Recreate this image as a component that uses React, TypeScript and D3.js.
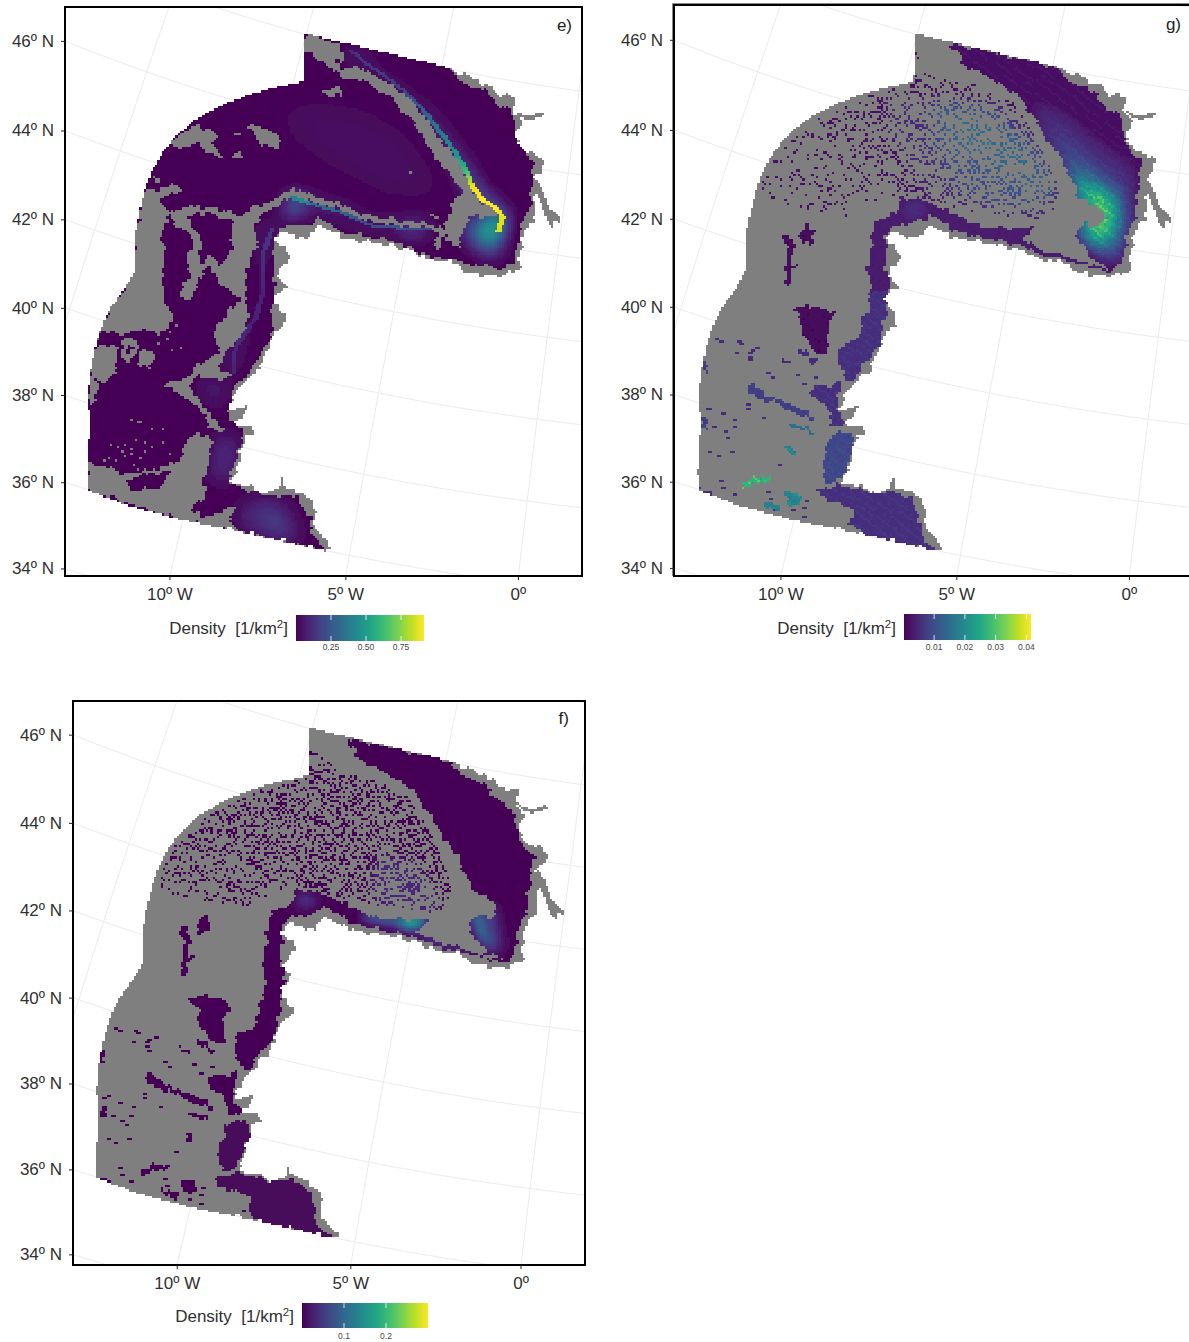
import React, { useMemo } from 'react';
import * as d3 from 'd3';

// outlines in "trace units" (about 3 units per pixel)
const studyOutline = [[720,100],[1150,203],[1180,225],[1200,218],[1225,243],[1270,255],[1285,280],[1345,295],[1335,330],[1350,348],[1360,375],[1340,400],[1370,455],[1420,468],[1425,510],[1400,530],[1403,578],[1398,660],[1370,690],[1350,780],[1365,808],[1320,825],[1250,825],[1200,815],[1170,790],[1060,770],[1040,750],[960,735],[830,710],[760,675],[735,715],[650,695],[635,725],[680,770],[640,830],[665,860],[632,890],[640,910],[670,980],[635,995],[620,1025],[590,1100],[525,1165],[495,1235],[510,1265],[545,1305],[530,1385],[500,1450],[560,1460],[610,1480],[650,1465],[710,1470],[755,1535],[750,1580],[800,1645],[780,1652],[520,1592],[360,1560],[200,1516],[80,1470],[78,1410],[85,1310],[88,1250],[80,1210],[85,1150],[90,1110],[105,1035],[118,995],[135,950],[150,920],[170,895],[200,850],[220,810],[222,700],[233,640],[250,570],[268,520],[300,460],[340,410],[390,365],[440,335],[490,310],[555,285],[620,265],[715,245]];
const riverStubs = [
  [[1345,335],[1380,348],[1425,336],[1432,346],[1385,360],[1350,348]],
  [[1400,530],[1420,560],[1440,620],[1475,655],[1478,668],[1455,662],[1458,688],[1440,670],[1425,625],[1403,578],[1395,600]],
  [[495,1235],[555,1215],[535,1255],[510,1265],[520,1275],[560,1275],[575,1300],[545,1305],[530,1310],[505,1290]],
  [[648,1465],[650,1435],[658,1435],[660,1465]],
];
const seaOutline = [[720,100],[1150,203],[1175,240],[1260,275],[1275,305],[1335,335],[1345,390],[1370,450],[1395,490],[1395,530],[1385,620],[1365,660],[1340,790],[1310,805],[1200,790],[1060,760],[1040,740],[960,720],[830,695],[760,650],[745,675],[650,680],[630,720],[635,770],[630,890],[625,930],[630,1000],[600,1040],[580,1090],[520,1150],[495,1235],[510,1265],[540,1290],[525,1370],[495,1450],[600,1485],[700,1490],[735,1550],[745,1600],[780,1650],[520,1592],[360,1560],[200,1516],[80,1470],[78,1410],[85,1310],[88,1250],[80,1210],[85,1150],[90,1110],[105,1035],[118,995],[135,950],[150,920],[170,895],[200,850],[220,810],[222,700],[233,640],[250,570],[268,520],[300,460],[340,410],[390,365],[440,335],[490,310],[555,285],[620,265],[715,245]];

// panel e: areas without density inside the sea
const holesE = [
  [[718,105],[760,112],[800,125],[840,150],[835,175],[800,190],[830,205],[880,198],[930,228],[985,262],[1030,290],[1055,325],[1100,385],[1140,440],[1180,495],[1205,535],[1215,575],[1240,605],[1280,625],[1295,650],[1270,650],[1205,650],[1190,690],[1175,745],[1145,725],[1130,665],[1160,640],[1145,620],[1190,580],[1170,550],[1140,510],[1115,490],[1090,440],[1060,400],[1030,345],[980,300],[930,268],[890,235],[850,240],[800,205],[760,180],[718,145]],
  [[765,270],[830,265],[825,285],[790,290]],
  [[550,380],[590,375],[640,405],[655,430],[640,445],[590,425]],
  [[395,378],[440,385],[470,410],[450,425],[480,468],[430,460],[420,430],[350,445],[320,435],[350,405]],
  [[505,395],[535,400],[525,410]],
  [[505,465],[530,455],[540,470],[510,478]],
  [[1028,515],[1042,518],[1035,523]],
  [[1090,640],[1120,645],[1115,652],[1090,650]],
  [[280,525],[300,530],[295,540],[280,538]],
  [[250,570],[345,555],[355,575],[290,600],[320,635],[300,700],[310,780],[300,860],[310,900],[335,970],[310,995],[250,990],[180,1000],[118,995],[105,1035],[135,950],[170,895],[220,810],[222,700]],
  [[320,640],[380,618],[450,620],[535,650],[570,620],[650,595],[680,562],[760,592],[830,612],[900,645],[950,655],[1060,668],[1125,680],[1140,700],[1115,745],[1100,740],[1120,690],[1060,682],[950,672],[900,662],[830,628],[760,610],[690,585],[675,600],[640,620],[590,640],[570,680],[585,720],[560,780],[545,860],[555,930],[550,1000],[490,1050],[470,1100],[500,1135],[400,1130],[380,1160],[415,1200],[445,1250],[500,1290],[470,1290],[440,1280],[420,1240],[370,1190],[300,1155],[370,1135],[400,1100],[445,1075],[470,1050],[450,1000],[470,970],[500,930],[540,900],[500,880],[480,860],[440,790],[410,840],[385,900],[350,890],[360,850],[390,830],[370,770],[400,720],[370,690],[340,680]],
  [[78,1465],[82,1390],[100,1395],[130,1400],[170,1415],[230,1420],[300,1400],[350,1385],[370,1350],[365,1320],[395,1305],[440,1300],[445,1340],[440,1390],[415,1440],[440,1470],[400,1510],[385,1535],[440,1550],[480,1530],[520,1520],[500,1560],[525,1592],[440,1575],[360,1560],[200,1510],[80,1470]],
  [[105,1035],[165,1040],[170,1090],[160,1120],[130,1150],[90,1130],[90,1110]],
  [[235,1050],[285,1060],[265,1105],[235,1095]],
  [[180,1010],[230,1020],[225,1060],[200,1090],[180,1065]],
  [[90,1130],[115,1150],[105,1200],[85,1230]],
  [[205,1257],[240,1266],[238,1270],[204,1261]],
];
const lakesE = [
  [[375,650],[440,635],[505,665],[510,720],[500,770],[470,790],[440,760],[420,790],[405,760],[420,720],[395,690]],
  [[195,1440],[260,1420],[325,1410],[300,1460],[240,1470],[215,1475]],
  [[195,1035],[215,1040],[205,1060],[190,1055]],
];
const specksE = [[150,1330],[165,1340],[180,1350],[190,1365],[210,1360],[220,1315],[245,1325],[270,1335],[300,1325],[320,1360],[215,1390],[225,1405],[160,1375],[140,1370],[130,1380],[100,1415],[265,1280],[297,1282],[190,1330],[235,1370],[205,1345],[250,1350],[300,985],[320,990],[340,975],[290,1000],[315,1010],[350,1040],[330,1045],[285,1030]];
const bandsE = [
  { v: 0.012, poly: [[600,320],[760,280],[900,300],[1040,370],[1120,490],[1150,580],[1100,630],[950,620],[790,550],[650,450]] },
  { v: 0.024, poly: [[680,330],[770,320],[890,340],[1000,410],[1080,510],[1090,570],[990,570],[810,480],[700,400]] },
  { v: 0.036, poly: [[730,370],[860,380],[980,450],[1040,530],[960,530],[820,450]] },
  { v: 0.08, poly: [[850,145],[910,170],[905,200],[860,195]] },
  { v: 0.12, poly: [[462,1310],[522,1310],[505,1440],[445,1440]] },
  { v: 0.09, poly: [[400,1145],[490,1150],[480,1210],[430,1190]] },
  { v: 0.1, poly: [[500,1040],[530,1000],[515,1100],[490,1110]] },
  { v: 0.1, poly: [[530,1510],[620,1490],[680,1530],[705,1625],[660,1625],[530,1585]] },
  { v: 0.18, poly: [[580,1540],[640,1530],[680,1600],[650,1615]] },
  { v: 0.12, poly: [[590,780],[625,660],[705,640],[720,600],[650,660],[590,690]] },
  { v: 0.28, poly: [[1190,660],[1250,650],[1300,650],[1295,740],[1275,775],[1200,720]] },
  { v: 0.45, poly: [[1225,680],[1295,660],[1292,735],[1265,745]] },
  { v: 0.72, poly: [[1255,675],[1295,655],[1293,715],[1270,715]] },
  { v: 1.1, poly: [[1270,678],[1295,665],[1290,692],[1275,692]] },
  { v: 0.5, poly: [[680,595],[715,595],[700,640],[670,640]] },
  { v: 0.4, poly: [[1000,680],[1080,675],[1070,695],[1020,700]] },
];
const ridgesE = [
  [[850,150,0.12],[1000,262,0.16],[1060,320,0.25],[1100,372,0.33],[1150,440,0.42],[1190,505,0.6],[1210,555,0.88],[1240,595,0.91],[1280,620,0.91],[1300,650,0.88],[1285,690,0.85]],
  [[680,590,0.4],[710,600,0.45],[760,615,0.32],[830,635,0.28],[910,672,0.2],[1000,680,0.24],[1085,682,0.18]],
  [[620,680,0.14],[590,760,0.12],[590,880,0.09],[570,950,0.09],[510,1040,0.1],[505,1120,0.09]],
];

// panels g and f: sea areas that hold data
const coreAreas = [
  { g: 0.002, f: 0.002, poly: [[840,128],[1165,203],[1190,240],[1280,280],[1285,305],[1345,340],[1360,400],[1385,460],[1415,490],[1405,560],[1395,650],[1375,690],[1355,790],[1335,808],[1270,780],[1235,745],[1220,695],[1240,670],[1280,680],[1305,650],[1290,625],[1225,590],[1215,560],[1190,510],[1150,440],[1100,370],[1050,290],[1000,260],[920,210],[860,185],[880,170],[850,145]] },
  { g: 0.003, f: 0.002, poly: [[695,590],[760,600],[850,640],[930,680],[1010,680],[1095,685],[1060,720],[1100,745],[1190,770],[1250,790],[1335,808],[1320,812],[1200,785],[1100,760],[1050,735],[960,718],[850,690],[775,640],[765,660],[680,675],[650,700],[645,800],[660,840],[640,900],[600,890],[595,800],[605,720],[615,660],[680,640]] },
  { g: 0.006, f: 0.002, poly: [[595,870],[655,870],[645,950],[630,1030],[600,1070],[550,1140],[530,1145],[510,1100],[505,1060],[520,1030],[565,1015],[580,975],[570,950],[600,920]] },
  { g: 0.006, f: 0.002, poly: [[420,1160],[515,1150],[500,1240],[525,1270],[520,1285],[490,1275],[470,1220],[435,1190]] },
  { g: 0.009, f: 0.004, poly: [[475,1305],[545,1295],[550,1345],[530,1400],[510,1440],[465,1450],[455,1400],[470,1350]] },
  { g: 0.006, f: 0.003, poly: [[445,1470],[500,1455],[560,1465],[620,1480],[660,1475],[720,1490],[750,1560],[755,1620],[800,1650],[780,1650],[580,1605],[545,1570],[555,1530],[500,1510],[460,1495]] },
];
const patchAreas = [
  { g: 0.001, f: 0.002, poly: [[390,700],[410,675],[435,690],[430,725],[400,730]] },
  { g: 0.001, f: 0.002, poly: [[340,700],[365,705],[370,760],[350,765]] },
  { g: 0.001, f: 0.002, poly: [[352,760],[365,760],[362,800],[385,790],[385,800],[362,815],[360,850],[340,860],[350,820]] },
  { g: 0.001, f: 0.002, poly: [[365,925],[430,915],[490,935],[475,985],[470,1060],[440,1060],[400,1010],[395,960]] },
  { g: 0.005, f: 0.002, poly: [[335,1075],[370,1085],[368,1092],[333,1082]] },
  { g: 0.005, f: 0.002, poly: [[385,1045],[445,1080],[440,1090],[385,1060]] },
  { g: 0.008, f: 0.002, poly: [[240,1150],[265,1165],[320,1195],[300,1205],[250,1190],[235,1170]] },
  { g: 0.008, f: 0.002, poly: [[315,1198],[370,1215],[430,1245],[430,1260],[370,1240],[320,1215]] },
  { g: 0.014, f: 0.002, poly: [[360,1268],[435,1290],[430,1300],[365,1280]] },
  { g: 0.018, f: 0.002, poly: [[352,1335],[372,1335],[375,1365],[355,1360]] },
  { g: 0.027, f: 0.002, poly: [[215,1450],[250,1435],[300,1423],[305,1438],[250,1455],[225,1465]] },
  { g: 0.019, f: 0.002, poly: [[340,1475],[385,1478],[392,1510],[355,1520]] },
  { g: 0.018, f: 0.002, poly: [[285,1500],[330,1520],[330,1540],[280,1510]] },
  { g: 0.008, f: 0.002, poly: [[95,1250],[112,1255],[115,1290],[98,1285]] },
  { g: 0.008, f: 0.002, poly: [[100,1080],[112,1080],[108,1125],[98,1125]] },
  { g: 0.006, f: 0.002, poly: [[90,1468],[130,1478],[128,1486],[92,1474]] },
];
const dotsLower = [[135,1015],[150,1018],[198,1020],[205,1028],[232,1052],[236,1066],[238,1078],[258,1038],[195,1053],[105,1225],[115,1350],[140,1365],[160,1290],[170,1310],[185,1280],[130,1280],[180,1350],[152,1240],[225,1210],[228,1225],[190,1255],[115,1220],[260,1180],[275,1250],[300,1130],[290,1118],[375,1125],[400,1150],[430,1130],[320,1390],[150,1440],[155,1460],[290,1470],[295,1490],[405,1500],[400,1520],[360,1530],[310,1525],[400,1550],[530,1570],[545,1565],[185,1480],[240,1045]];
const speckleZone = [[430,365],[560,295],[730,250],[730,150],[770,190],[850,250],[880,240],[1030,300],[1100,420],[1170,570],[1150,650],[1100,660],[940,640],[800,610],[690,580],[620,600],[540,650],[320,610],[265,570],[330,450]];
const denseZone = [[560,295],[730,250],[850,250],[1030,300],[1100,420],[1170,570],[1150,650],[940,640],[800,610],[690,580],[620,520],[540,400]];
const speckleTile = [
  "..##..o...+++.....#..o....##...+....o.#.",
  "....#...o....##....+...#....#..o..++....",
  "+o...##....o...#.o...+..#....+....o..##.",
  ".##....#..+.....##.......##.o...#.....o#",
  "...#o...#....o....#..+o....#...##..+....",
  ".....#..o.##...+...#....o..o#....#...o+.",
  ".+....#.....#o...o..##.+.....#.o..##....",
  "o..##..#.+...##.......#...##..+.....#.o.",
  "....#o..#...o..#.+o....#....#....o...##.",
  ".#....#...o.....#...##..o...o##....+...#",
  "..#+...##....+...o....#..+.....#..o.##..",
  "o..#......#.o...##.....#....++..#.....#.",
  "....##.+...#.....o#..o..##.....o..#+....",
  ".o....#.....##.+...#.....o#.##.....#..o.",
  "..+....#o.....#...o.##......o.#.+...##..",
  "##..o...##..+..#.....#..+.....#...o...#.",
  "..#.....o.#......##...#....##..o.#...+..",
  ".o.##.+....#.o....#o...##....#....##....",
  "....o#....#.##.....#.....#o...#.+...#.o.",
  "+.....#.o....#..+o..##....#.o..##....#..",
  "..##...#...o..#......#.+...##....#o.....",
  "...o#...##....o.##....#.....o#....##.+..",
  ".+...#....#.+....#.o...##.....#.o...#...",
  "o...#.##...#...o..#.....#.+....##....o#.",
];
// edge roughness of the raster, in cells
const wobA = [0,1,2,1,0,-1,-2,-1,1,2,1,-1,-2,0,2,1,-1,0,1,-2,-1,1,0,2,-1,-2,0,1];
const wobB = [1,0,-1,-2,0,2,1,-1,0,1,2,0,-2,-1,1,-1,0,2,1,-1,-2,0,1,2,-1,0,-1,1,0,2,-2];
const bandsG = [
  { v: 0.005, poly: [[640,260],[1100,400],[1170,600],[1100,660],[800,610],[700,500],[640,360]] },
  { v: 0.01, poly: [[780,290],[1000,320],[1150,520],[1170,590],[1100,640],[930,620],[800,470]] },
  { v: 0.014, poly: [[800,310],[950,340],[1120,480],[1170,580],[1080,560],[960,500],[820,420]] },
  { v: 0.005, poly: [[1060,290],[1180,330],[1290,420],[1400,500],[1405,650],[1380,760],[1340,800],[1230,740],[1220,590]] },
  { v: 0.009, poly: [[1110,370],[1190,420],[1290,500],[1375,570],[1375,680],[1340,790],[1240,740],[1220,640],[1190,510]] },
  { v: 0.014, poly: [[1160,450],[1240,510],[1340,590],[1355,680],[1325,770],[1250,730],[1225,670],[1215,560]] },
  { v: 0.022, poly: [[1190,510],[1260,540],[1330,590],[1340,670],[1305,740],[1250,720],[1225,680],[1290,650],[1220,590]] },
  { v: 0.032, poly: [[1220,560],[1290,580],[1325,610],[1330,670],[1300,710],[1240,700],[1225,670],[1280,670],[1310,640],[1230,590]] },
  { v: 0.05, poly: [[1270,590],[1315,600],[1320,630],[1295,610]] },
  { v: 0.05, poly: [[1290,665],[1315,660],[1300,690],[1270,700]] },
  { v: 0.008, poly: [[700,590],[780,610],[770,650],[690,670]] },
];
const bandsF = [
  { v: 0.035, poly: [[950,480],[1060,520],[1130,620],[1120,660],[940,640],[920,560]] },
  { v: 0.05, poly: [[700,600],[760,620],[730,650],[700,640]] },
  { v: 0.1, poly: [[900,660],[1000,670],[1095,675],[1090,700],[1050,720],[1100,755],[1200,775],[1320,800],[1230,775],[1100,740],[1000,705],[900,685]] },
  { v: 0.2, poly: [[1020,668],[1090,678],[1050,708],[1015,700]] },
  { v: 0.05, poly: [[1225,650],[1300,650],[1320,770],[1280,780],[1240,730]] },
  { v: 0.11, poly: [[1225,655],[1255,665],[1285,770],[1255,750],[1232,710]] },
];

const latTicks = [46, 44, 42, 40, 38, 36, 34];
const lonTicks = [-10, -5, 0];
const viridisStops = d3.range(0, 1.01, 0.1);

const CELL = 2.25;
const GRAY = -1;
const project = d3.geoAzimuthalEqualArea().rotate([-10, -52]).scale(1).translate([0, 0]);
// reference panel's pixels, then trace units
const refX = d3.scaleLinear().domain([0, 1]).range([858, 858 + 2395]);
const refY = d3.scaleLinear().domain([0, 1]).range([-56, -56 + 2374]);
const toTrace = (lon: number, lat: number) => {
  const [x, y] = project([lon, lat]) as [number, number];
  return [(refX(x) - 60) * 2.95, refY(y) * 3];
};

const panels = [
  {
    label: 'e)', frame: [65, 7, 582, 576], labelAt: [572, 31], domain: [0, 0.914], smooth: 4,
    baseX: d3.scaleLinear().domain([0, 1475]).range([60, 560]),
    baseY: d3.scaleLinear().domain([0, 3]).range([0, 1]),
    ownX: d3.scaleLinear().domain([0, 1475]).range([60, 560]),
    ownY: d3.scaleLinear().domain([0, 3]).range([0, 1]),
    bar: [296, 424, 615, 641], ticks: [0.25, 0.5, 0.75], tickLabels: ['0.25', '0.50', '0.75'], tickY: 650,
    titleY: 634,
  },
  {
    label: 'g)', frame: [674, 5, 1192, 576], labelAt: [1181, 30], domain: [0.0002, 0.0415], smooth: 4,
    baseX: d3.scaleLinear().domain([0, 1475]).range([671, 1171]),
    baseY: d3.scaleLinear().domain([0, 3]).range([0, 1]),
    ownX: d3.scaleLinear().domain([0, 1500]).range([670, 1170]),
    ownY: d3.scaleLinear().domain([0, 3]).range([0, 1]),
    bar: [904, 1031, 614, 640], ticks: [0.01, 0.02, 0.03, 0.04], tickLabels: ['0.01', '0.02', '0.03', '0.04'], tickY: 650,
    titleY: 634, key: 'g',
  },
  {
    label: 'f)', frame: [73, 701, 585, 1265], labelAt: [569, 724], domain: [0, 0.3], smooth: 2,
    baseX: d3.scaleLinear().domain([0, 1475]).range([69.4, 562.4]),
    baseY: d3.scaleLinear().domain([0, 1700]).range([694.9, 1253.1]),
    ownX: d3.scaleLinear().domain([0, 1500]).range([68.4, 561.4]),
    ownY: d3.scaleLinear().domain([0, 1700]).range([694.9, 1253.1]),
    bar: [302, 428, 1303, 1328], ticks: [0.1, 0.2], tickLabels: ['0.1', '0.2'], tickY: 1339,
    titleY: 1322, key: 'f',
  },
];

const wob = (arr: number[], k: number) => arr[Math.floor(k / 2) % arr.length];

function rasterize(p: any) {
  const [x0, y0, x1, y1] = p.frame;
  const cols = Math.ceil((x1 - x0) / CELL);
  const rows = Math.ceil((y1 - y0) / CELL);
  const grid = new Float32Array(cols * rows).fill(NaN);
  const field = new Float32Array(cols * rows);

  const fill = (poly: number[][], sx: any, sy: any, paint: (i: number, c: number, r: number) => void) => {
    const pts = poly.map(([a, b]) => [sx(a), sy(b)]);
    for (let r = 0; r < rows; r++) {
      const y = y0 + (r + 0.5) * CELL;
      const xs: number[] = [];
      pts.forEach((q, k) => {
        const n = pts[(k + 1) % pts.length];
        if ((q[1] <= y) !== (n[1] <= y)) xs.push(q[0] + ((y - q[1]) / (n[1] - q[1])) * (n[0] - q[0]));
      });
      xs.sort((a, b) => a - b);
      for (let k = 0; k + 1 < xs.length; k += 2) {
        const c0 = Math.max(0, Math.round((xs[k] - x0) / CELL));
        const c1 = Math.min(cols, Math.round((xs[k + 1] - x0) / CELL));
        for (let c = c0; c < c1; c++) paint(r * cols + c, c, r);
      }
    }
  };
  // same polygon with rough, raster-like edges; amp scales the roughness
  const rough = (poly: number[][], sx: any, sy: any, paint: (i: number) => void, amp = 1, a = wobA, b = wobB, zone?: (c: number, r: number) => boolean) => {
    const m = new Uint8Array(cols * rows);
    fill(poly, sx, sy, (i) => { m[i] = 1; });
    for (let r = 0; r < rows; r++) {
      for (let c = 0; c < cols; c++) {
        const warped = !zone || zone(c, r);
        const sc = warped ? c + Math.trunc(wob(a, r) * amp) : c;
        const sr = warped ? r + Math.trunc(wob(b, c) * amp) : r;
        if (sc >= 0 && sc < cols && sr >= 0 && sr < rows && m[sr * cols + sc]) paint(r * cols + c);
      }
    }
  };
  const coastZone = (c: number, r: number) => {
    const X = p.baseX.invert(x0 + c * CELL);
    const Y = p.baseY.invert(y0 + r * CELL);
    if (Y <= 690) return X > 1160;
    return X > 480 && Y < 1560 + (X - 360) * 0.219 - 6;
  };
  const set = (v: number) => (i: number) => { grid[i] = v; };

  rough(studyOutline, p.baseX, p.baseY, set(GRAY), 0.75, wobA, wobB, coastZone);
  riverStubs.forEach((s) => fill(s, p.baseX, p.baseY, set(GRAY)));

  if (!p.key) {
    rough(seaOutline, p.baseX, p.baseY, (i) => { if (grid[i] === GRAY) grid[i] = 0; }, 0.75, wobB, wobA, coastZone);
    holesE.forEach((h) => rough(h, p.ownX, p.ownY, (i) => { if (!Number.isNaN(grid[i])) grid[i] = GRAY; }, 0.75));
    lakesE.forEach((h) => rough(h, p.ownX, p.ownY, set(0), 0.75));
    specksE.forEach(([a, b]) => {
      const c = Math.round((p.ownX(a) - x0) / CELL);
      const r = Math.round((p.ownY(b) - y0) / CELL);
      grid[r * cols + c] = GRAY;
    });
    bandsE.forEach((b) => fill(b.poly, p.ownX, p.ownY, (i) => { field[i] = b.v; }));
    ridgesE.forEach((line) => {
      line.slice(1).forEach((b, k) => {
        const a = line[k];
        d3.range(24).forEach((s) => {
          const t = s / 24;
          const c = Math.round((p.ownX(a[0] + (b[0] - a[0]) * t) - x0) / CELL);
          const r = Math.round((p.ownY(a[1] + (b[1] - a[1]) * t) - y0) / CELL);
          field[r * cols + c] = Math.max(field[r * cols + c], (a[2] + (b[2] - a[2]) * t) * 1.4);
        });
      });
    });
  } else {
    const own = (poly: number[][], v: number) => rough(poly, p.ownX, p.ownY, (i) => { if (!Number.isNaN(grid[i])) grid[i] = v; }, 0.75);
    coreAreas.forEach((a: any) => own(a.poly, a[p.key]));
    patchAreas.forEach((a: any) => own(a.poly, a[p.key]));
    dotsLower.forEach(([a, b]) => {
      const c = Math.round((p.ownX(a) - x0) / CELL);
      const r = Math.round((p.ownY(b) - y0) / CELL);
      [0, 1].forEach((d) => { if (grid[r * cols + c + d] === GRAY) grid[r * cols + c + d] = p.key === 'g' ? 0.005 : 0.002; });
    });
    const dense = new Uint8Array(cols * rows);
    fill(denseZone, p.ownX, p.ownY, (i) => { dense[i] = 1; });
    fill(speckleZone, p.ownX, p.ownY, (i, c, r) => {
      if (grid[i] !== GRAY) return;
      const tc = c + wob(wobA, r) + 60;
      const tr = r + wob(wobB, c) + 60;
      const row = speckleTile[tr % speckleTile.length];
      const ch = row[(tc + Math.floor(tr / speckleTile.length) * 13) % row.length];
      const inDense = dense[i] === 1;
      const keep = p.key === 'f'
        ? ch === '#' || ch === '+' || (ch === 'o' && inDense)
        : (ch === '#' && (inDense || tr % 3 !== 0)) || (ch === '+' && inDense);
      if (keep) grid[i] = 0.002;
    });
    (p.key === 'g' ? bandsG : bandsF).forEach((b) => fill(b.poly, p.ownX, p.ownY, (i) => { field[i] = b.v; }));
  }

  // soften the painted bands into a continuous field
  const tmp = new Float32Array(field.length);
  const R = p.smooth;
  d3.range(2).forEach(() => {
    for (let r = 0; r < rows; r++) {
      for (let c = 0; c < cols; c++) {
        let s = 0; let n = 0;
        for (let d = -R; d <= R; d++) {
          if (c + d >= 0 && c + d < cols) { s += field[r * cols + c + d]; n++; }
        }
        tmp[r * cols + c] = s / n;
      }
    }
    for (let c = 0; c < cols; c++) {
      for (let r = 0; r < rows; r++) {
        let s = 0; let n = 0;
        for (let d = -R; d <= R; d++) {
          if (r + d >= 0 && r + d < rows) { s += tmp[(r + d) * cols + c]; n++; }
        }
        field[r * cols + c] = s / n;
      }
    }
  });
  for (let r = 0; r < rows; r++) {
    for (let c = 0; c < cols; c++) {
      const i = r * cols + c;
      if (grid[i] >= 0) {
        let v = Math.max(grid[i], field[i]);
        if (p.key === 'g') {
          const ch = speckleTile[r % speckleTile.length][c % 40];
          v *= ch === '#' ? 1.16 : ch === 'o' ? 0.88 : ch === '+' ? 1.08 : 1;
        }
        grid[i] = v;
      }
    }
  }

  if (!p.key) {
    ridgesE.forEach((line) => {
      line.slice(1).forEach((b, k) => {
        const a = line[k];
        d3.range(24).forEach((s) => {
          const t = s / 24;
          const c = Math.round((p.ownX(a[0] + (b[0] - a[0]) * t) - x0) / CELL);
          const r = Math.round((p.ownY(a[1] + (b[1] - a[1]) * t) - y0) / CELL);
          const v = a[2] + (b[2] - a[2]) * t;
          [[0, 0], [1, 0]].forEach(([dc, dr]) => {
            const i = (r + dr) * cols + c + dc;
            if (!Number.isNaN(grid[i])) grid[i] = v;
          });
        });
      });
    });
  }

  const color = d3.scaleSequential(d3.interpolateViridis).domain(p.domain);
  const step = (p.domain[1] - p.domain[0]) / (p.key ? 64 : 160);
  const byFill = new Map<number, string[]>();
  for (let r = 0; r < rows; r++) {
    let c = 0;
    const level = (v: number) => (Number.isNaN(v) ? NaN : v < 0 ? GRAY : Math.round(v / step) * step);
    while (c < cols) {
      const v = level(grid[r * cols + c]);
      let e = c + 1;
      while (e < cols && level(grid[r * cols + e]) === v) e++;
      if (!Number.isNaN(v)) {
        if (!byFill.has(v)) byFill.set(v, []);
        const w = ((e - c) * CELL).toFixed(2);
        byFill.get(v)!.push(`M${(x0 + c * CELL).toFixed(2)} ${(y0 + r * CELL).toFixed(2)}h${w}v${CELL}h-${w}z`);
      }
      c = e;
    }
  }
  return Array.from(byFill, ([v, runs]) => ({ fill: v < 0 ? '#7f7f7f' : color(v), d: runs.join('') }));
}

function graticule(p: any) {
  const sx = (t: number[]) => [p.baseX(t[0]), p.baseY(t[1])];
  const line = d3.line();
  const paths: string[] = [];
  d3.range(-25, 20, 5).forEach((lon) => {
    paths.push(line(d3.range(28, 54, 0.5).map((lat) => sx(toTrace(lon, lat))) as any)!);
  });
  d3.range(30, 52, 2).forEach((lat) => {
    paths.push(line(d3.range(-30, 20, 0.5).map((lon) => sx(toTrace(lon, lat))) as any)!);
  });
  return paths;
}

// where a parallel meets the left edge, or a meridian the bottom edge
function leftCrossing(p: any, lat: number) {
  let prev: number[] | null = null;
  for (const lon of d3.range(-40, 20, 0.05)) {
    const t = toTrace(lon, lat);
    const cur = [p.baseX(t[0]), p.baseY(t[1])];
    if (prev && prev[0] < p.frame[0] && cur[0] >= p.frame[0]) return cur[1];
    prev = cur;
  }
  return 0;
}
function bottomCrossing(p: any, lon: number) {
  let prev: number[] | null = null;
  for (const lat of d3.range(20, 55, 0.02)) {
    const t = toTrace(lon, lat);
    const cur = [p.baseX(t[0]), p.baseY(t[1])];
    if (prev && prev[1] > p.frame[3] && cur[1] <= p.frame[3]) return cur[0];
    prev = cur;
  }
  return 0;
}

const FONT = '"Liberation Sans", Arial, sans-serif';

function Panel({ p, index }: { p: any; index: number }) {
  const cells = useMemo(() => rasterize(p), [p]);
  const grat = useMemo(() => graticule(p), [p]);
  const [x0, y0, x1, y1] = p.frame;
  const [bx0, bx1, by0, by1] = p.bar;
  const barX = d3.scaleLinear().domain(p.domain).range([bx0, bx1]);
  const gradId = `viridis-${index}`;
  return (
    <g>
      <defs>
        <clipPath id={`frame-${index}`}>
          <rect x={x0} y={y0} width={x1 - x0} height={y1 - y0} />
        </clipPath>
        <linearGradient id={gradId}>
          {viridisStops.map((t) => (
            <stop key={t} offset={t} stopColor={d3.interpolateViridis(t)} />
          ))}
        </linearGradient>
      </defs>
      <g clipPath={`url(#frame-${index})`}>
        {grat.map((d, i) => (
          <path key={i} d={d} fill="none" stroke="#ebebeb" strokeWidth={1} />
        ))}
        <g filter="url(#soft)">
          {cells.map((c, i) => (
            <path key={i} d={c.d} fill={c.fill} shapeRendering="crispEdges" />
          ))}
        </g>
      </g>
      {p.key === 'g' && <path d={`M${x0 - 1.5} ${y1}V${y0 - 1.5}H${x1}`} fill="none" stroke="#888" strokeWidth={1} />}
      <rect x={x0} y={y0} width={x1 - x0} height={y1 - y0} fill="none" stroke="#000" strokeWidth={2} />
      <text x={p.labelAt[0]} y={p.labelAt[1]} textAnchor="end" fontSize={17} fontFamily={FONT} fill="#222">{p.label}</text>
      {latTicks.map((lat) => {
        const y = leftCrossing(p, lat);
        return (
          <g key={lat}>
            <line x1={x0 - 4} x2={x0} y1={y} y2={y} stroke="#222" strokeWidth={1} />
            <text x={x0 - 11} y={y + 5.5} textAnchor="end" fontSize={17} fontFamily={FONT} fill="#303030">{`${lat}º N`}</text>
          </g>
        );
      })}
      {lonTicks.map((lon) => {
        const x = bottomCrossing(p, lon);
        return (
          <g key={lon}>
            <line x1={x} x2={x} y1={y1} y2={y1 + 4} stroke="#222" strokeWidth={1} />
            <text x={x} y={y1 + 24} textAnchor="middle" fontSize={17} fontFamily={FONT} fill="#303030">{lon === 0 ? '0º' : `${-lon}º W`}</text>
          </g>
        );
      })}
      <text x={bx0 - 8} y={p.titleY} textAnchor="end" fontSize={17} fontFamily={FONT} fill="#303030">
        {'Density\u00A0 [1/km'}<tspan fontSize={11.5} dy={-6}>2</tspan><tspan dy={6}>]</tspan>
      </text>
      <rect x={bx0} y={by0} width={bx1 - bx0} height={by1 - by0} fill={`url(#${gradId})`} />
      {p.ticks.map((t: number, i: number) => (
        <g key={t}>
          <line x1={barX(t)} x2={barX(t)} y1={by0} y2={by0 + 5} stroke="#fff" strokeWidth={0.8} />
          <line x1={barX(t)} x2={barX(t)} y1={by1 - 5} y2={by1} stroke="#fff" strokeWidth={0.8} />
          <text x={barX(t)} y={p.tickY} textAnchor="middle" fontSize={8.5} fontFamily={FONT} fill="#444">{p.tickLabels[i]}</text>
        </g>
      ))}
    </g>
  );
}

export default function App() {
  return (
    <svg width={1189} height={1342} style={{ position: 'absolute', left: 0, top: 0, background: '#fff' }}>
      <defs>
        <filter id="soft" x="-2%" y="-2%" width="104%" height="104%">
          <feGaussianBlur stdDeviation={0.55} />
        </filter>
      </defs>
      {panels.map((p, i) => (
        <Panel key={p.label} p={p} index={i} />
      ))}
    </svg>
  );
}
